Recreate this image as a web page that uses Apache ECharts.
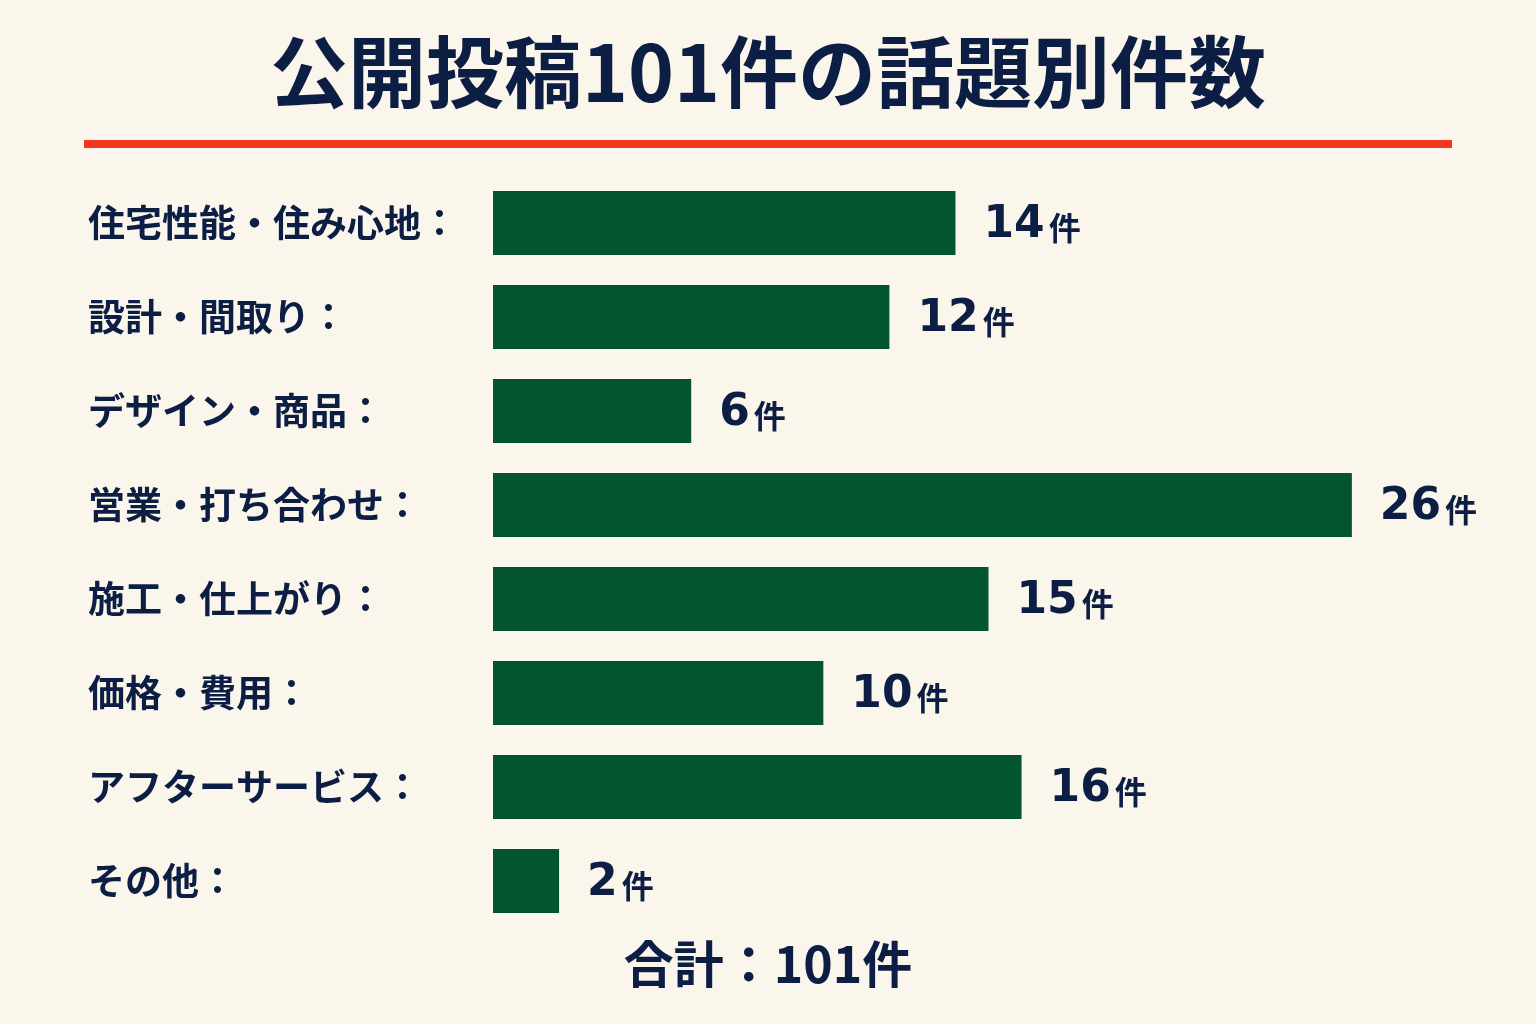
<!DOCTYPE html>
<html>
<head>
<meta charset="utf-8">
<script src="https://cdn.jsdelivr.net/npm/echarts@6/dist/echarts.min.js"></script>
<style>
    html, body { margin: 0; padding: 0; background: #FBF6EC; }
    #chart { width: 1536px; height: 1024px; }
</style>
</head>
<body>
<div id="chart"></div>
<script>
const titleText = '公開投稿101件の話題別件数';
const totalText = '合計：101件';
const categories = [
    '住宅性能・住み心地：',
    '設計・間取り：',
    'デザイン・商品：',
    '営業・打ち合わせ：',
    '施工・仕上がり：',
    '価格・費用：',
    'アフターサービス：',
    'その他：'
];
const counts = [14, 12, 6, 26, 15, 10, 16, 2];
const unit = '件';

const navy = '#0D1E45';
const green = '#02552F';
const cjk = '"Noto Sans CJK JP", "Noto Sans", sans-serif';
const digits = '"DejaVu Sans", sans-serif';

let chart = echarts.init(document.getElementById('chart'));

chart.setOption({
    backgroundColor: '#FBF6EC',
    animation: false,
    title: [
        {
            text: titleText,
            left: 'center',
            top: 28,
            textStyle: { color: navy, fontSize: 78, fontWeight: 'bold', fontFamily: cjk }
        },
        {
            text: totalText,
            left: 'center',
            top: 934,
            textStyle: { color: navy, fontSize: 50, fontWeight: 'bold', fontFamily: cjk }
        }
    ],
    graphic: [
        {
            type: 'rect',
            shape: { x: 84, y: 140, width: 1368, height: 8 },
            style: { fill: '#F2361F' }
        }
    ],
    grid: { left: 493, right: 52, top: 176, height: 752 },
    xAxis: {
        type: 'value',
        min: 0,
        max: 30,
        show: false
    },
    yAxis: {
        type: 'category',
        data: categories,
        inverse: true,
        axisLine: { show: false },
        axisTick: { show: false },
        axisLabel: {
            align: 'left',
            margin: 405,
            color: navy,
            fontSize: 37,
            fontWeight: 'bold',
            fontFamily: cjk
        }
    },
    series: [{
        type: 'bar',
        data: counts,
        barWidth: 64,
        itemStyle: { color: green },
        label: {
            show: true,
            position: 'right',
            distance: 28,
            formatter: function (p) {
                return '{n|' + p.value + '}{u|' + unit + '}';
            },
            rich: {
                n: { color: navy, fontSize: 44, fontWeight: 'bold', fontFamily: digits, padding: [6, 4, 0, 0] },
                u: { color: navy, fontSize: 32, fontWeight: 'bold', fontFamily: cjk, padding: [10, 0, 0, 0] }
            }
        }
    }]
});
</script>
</body>
</html>
